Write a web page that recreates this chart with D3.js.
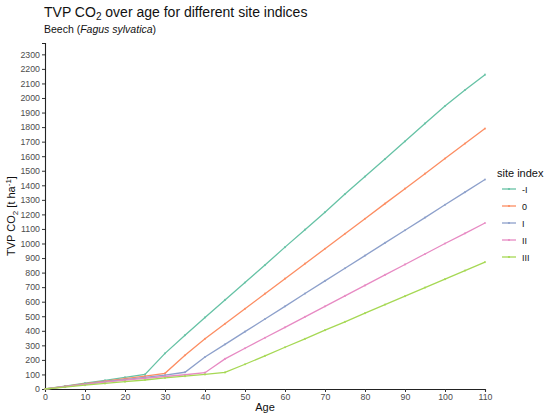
<!DOCTYPE html>
<html>
<head>
<meta charset="utf-8">
<script src="https://cdn.jsdelivr.net/npm/d3@7"></script>
<style>
  body { margin: 0; background: #fff; }
  svg { font-family: "Liberation Sans", Arial, sans-serif; }
</style>
</head>
<body>
<div id="chart"></div>
<script>
// Data (every 5 years)
const ages = [0, 5, 10, 15, 20, 25, 30, 35, 40, 45, 50, 55, 60, 65, 70, 75, 80, 85, 90, 95, 100, 105, 110];
const siteIndices = ["-I", "0", "I", "II", "III"];
const tvpMinusI = [0, 20, 40, 60, 80, 100, 245, 370, 492, 612, 732, 852, 975, 1095, 1215, 1340, 1460, 1580, 1702, 1825, 1945, 2055, 2160];
const tvp0 = [0, 18, 36, 54, 72, 88, 108, 232, 345, 448, 551, 655, 758, 861, 964, 1067, 1170, 1274, 1377, 1480, 1584, 1687, 1790];
const tvpI = [0, 17, 34, 50, 65, 80, 95, 115, 220, 307, 394, 481, 568, 656, 743, 830, 917, 1004, 1091, 1178, 1266, 1353, 1440];
const tvpII = [0, 16, 32, 47, 61, 74, 86, 98, 112, 207, 280, 352, 424, 496, 568, 640, 712, 784, 856, 928, 1000, 1070, 1141];
const tvpIII = [0, 13, 26, 38, 50, 62, 76, 88, 100, 114, 170, 228, 287, 345, 404, 462, 521, 580, 638, 697, 755, 814, 872];
const yTicks = d3.range(0, 2301, 100);
const xTicks = d3.range(0, 111, 10);

const colors = ["#66C2A5", "#FC8D62", "#8DA0CB", "#E78AC3", "#A6D854"];
const seriesValues = [tvpMinusI, tvp0, tvpI, tvpII, tvpIII];
const series = siteIndices.map((s, i) => ({
    key: s,
    color: colors[i],
    values: ages.map((a, j) => ({ age: a, tvp: seriesValues[i][j] }))
}));

const W = 550, H = 417;
const margin = { top: 43, right: 65, bottom: 28, left: 45 };
const width = W - margin.left - margin.right;
const height = H - margin.top - margin.bottom;

const svg = d3.select("#chart").append("svg")
    .attr("width", W)
    .attr("height", H);

const g = svg.append("g").attr("transform", `translate(${margin.left},${margin.top})`);

const x = d3.scaleLinear().domain([0, 110]).range([0, width]);
const y = d3.scaleLinear().domain([0, 2378]).range([height, 0]);

// Axes
const xAxis = g.append("g").attr("transform", `translate(0,${height})`)
    .call(d3.axisBottom(x).tickValues(xTicks).tickFormat(d3.format("d")).tickSize(3).tickPadding(2));
const yAxis = g.append("g")
    .call(d3.axisLeft(y).tickValues(yTicks).tickFormat(d3.format("d")).tickSize(3).tickPadding(2));

[xAxis, yAxis].forEach(ax => {
    ax.select(".domain").attr("stroke", "#222").attr("stroke-width", 1.1);
    ax.selectAll(".tick line").attr("stroke", "#333");
    ax.selectAll(".tick text").attr("fill", "#4D4D4D").style("font-size", "8.8px");
});

// Lines
const line = d3.line().x(d => x(d.age)).y(d => y(d.tvp));

g.selectAll(".series")
    .data(series)
    .join("path")
    .attr("class", "series")
    .attr("fill", "none")
    .attr("stroke", d => d.color)
    .attr("stroke-width", 1.3)
    .attr("d", d => line(d.values));

// Point markers (small)
series.forEach(s => {
    g.selectAll(null)
        .data(s.values)
        .join("circle")
        .attr("cx", d => x(d.age))
        .attr("cy", d => y(d.tvp))
        .attr("r", 1.1)
        .attr("fill", s.color)
        .attr("opacity", 0.8);
});

// Titles
svg.append("text").attr("x", 44).attr("y", 17)
    .style("font-size", "14px").attr("fill", "#111")
    .html('TVP CO<tspan font-size="10px" dy="3">2</tspan><tspan dy="-3"> over age for different site indices</tspan>');

const sub = svg.append("text").attr("x", 44).attr("y", 33)
    .style("font-size", "10.5px").attr("fill", "#111");
sub.append("tspan").text("Beech (");
sub.append("tspan").attr("font-style", "italic").text("Fagus sylvatica");
sub.append("tspan").text(")");

// Axis titles
svg.append("text")
    .attr("x", margin.left + width / 2).attr("y", 411)
    .attr("text-anchor", "middle").style("font-size", "11px").attr("fill", "#111")
    .text("Age");

svg.append("text")
    .attr("transform", `translate(15,${margin.top + height / 2}) rotate(-90)`)
    .attr("text-anchor", "middle").style("font-size", "11px").attr("fill", "#111")
    .html('TVP CO<tspan font-size="8px" dy="3">2</tspan><tspan dy="-3"> [t ha</tspan><tspan font-size="8px" dy="-4">-1</tspan><tspan dy="4">]</tspan>');

// Legend
const legend = svg.append("g").attr("transform", "translate(497,0)");
legend.append("text").attr("x", 0).attr("y", 177)
    .style("font-size", "11px").attr("fill", "#111").text("site index");

const items = legend.selectAll(".item")
    .data(series)
    .join("g")
    .attr("class", "item")
    .attr("transform", (d, i) => `translate(0,${189 + i * 17})`);
items.append("line")
    .attr("x1", 5).attr("x2", 19)
    .attr("stroke", d => d.color).attr("stroke-width", 1.3);
items.append("circle").attr("cx", 12).attr("r", 1.1).attr("fill", d => d.color);
items.append("text").attr("x", 25).attr("y", 3.5)
    .style("font-size", "9px").attr("fill", "#111")
    .text(d => d.key);
</script>
</body>
</html>
